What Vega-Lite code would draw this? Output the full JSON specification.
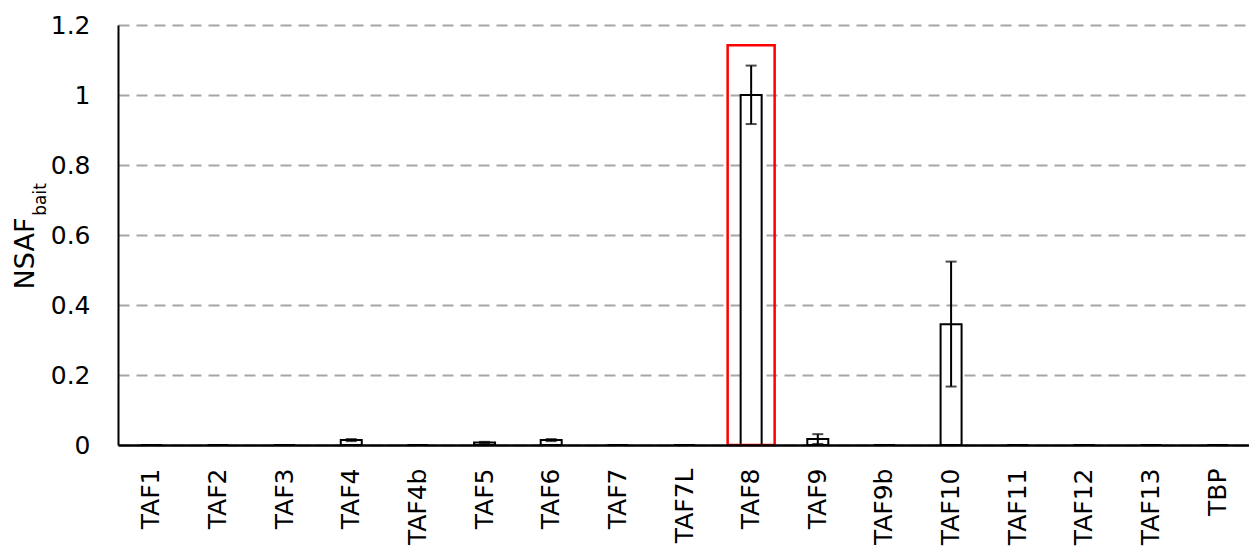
{
  "$schema": "https://vega.github.io/schema/vega-lite/v6.json",
  "width": 1133,
  "height": 420,
  "autosize": {"type": "none"},
  "padding": {"left": 118, "top": 25, "right": 0, "bottom": 105},
  "background": "white",
  "config": {
    "view": {"stroke": null},
    "font": "DejaVu Sans"
  },
  "data": {
    "values": [
      {"name": "TAF1", "value": 0},
      {"name": "TAF2", "value": 0},
      {"name": "TAF3", "value": 0},
      {"name": "TAF4", "value": 0.014, "lo": 0.011, "hi": 0.017},
      {"name": "TAF4b", "value": 0},
      {"name": "TAF5", "value": 0.007, "lo": 0.005, "hi": 0.009},
      {"name": "TAF6", "value": 0.014, "lo": 0.011, "hi": 0.017},
      {"name": "TAF7", "value": 0},
      {"name": "TAF7L", "value": 0},
      {"name": "TAF8", "value": 1.0, "lo": 0.917, "hi": 1.084},
      {"name": "TAF9", "value": 0.017, "lo": 0.003, "hi": 0.031},
      {"name": "TAF9b", "value": 0},
      {"name": "TAF10", "value": 0.345, "lo": 0.167, "hi": 0.524},
      {"name": "TAF11", "value": 0},
      {"name": "TAF12", "value": 0},
      {"name": "TAF13", "value": 0},
      {"name": "TBP", "value": 0}
    ]
  },
  "encoding": {
    "x": {
      "field": "name",
      "type": "nominal",
      "sort": null,
      "scale": {
        "domain": ["TAF1","TAF2","TAF3","TAF4","TAF4b","TAF5","TAF6","TAF7","TAF7L","TAF8","TAF9","TAF9b","TAF10","TAF11","TAF12","TAF13","TBP"],
        "paddingInner": 0,
        "paddingOuter": 0
      },
      "axis": {
        "title": null,
        "labelAngle": -90,
        "labelAlign": "right",
        "labelBaseline": "middle",
        "labelFontSize": 25,
        "labelColor": "black",
        "labelFont": "DejaVu Sans",
        "labelPadding": 23,
        "ticks": false,
        "domainColor": "black",
        "domainWidth": 2.5,
        "grid": false,
        "zindex": 1
      }
    }
  },
  "resolve": {"axis": {"y": "independent"}},
  "layer": [
    {
      "mark": {"type": "bar", "width": 21, "fill": "white", "stroke": "black", "strokeWidth": 2},
      "encoding": {
        "y": {
          "field": "value",
          "type": "quantitative",
          "scale": {"domain": [0, 1.2], "nice": false},
          "axis": {
            "values": [0, 0.2, 0.4, 0.6, 0.8, 1, 1.2],
            "format": ".1~f",
            "labelFontSize": 25,
            "labelColor": "black",
            "labelPadding": 28,
            "ticks": false,
            "domainColor": "black",
            "domainWidth": 2,
            "grid": true,
            "gridColor": "#a6a6a6",
            "gridWidth": 2,
            "gridDash": [11, 7],
            "title": "NSAF",
            "titleFontSize": 27,
            "titleFontWeight": "normal",
            "titleColor": "black",
            "titleAngle": -90,
            "titleAlign": "center",
            "titleBaseline": "alphabetic",
            "titleX": -85,
            "titleY": 228
          }
        }
      }
    },
    {
      "data": {"values": [{"name": "TAF8", "top": 1.142}]},
      "mark": {"type": "bar", "width": 47, "fill": "white", "fillOpacity": 0, "stroke": "#ff0000", "strokeWidth": 2.5},
      "encoding": {
        "y": {
          "field": "top",
          "type": "quantitative",
          "scale": {"domain": [0, 1.2], "nice": false},
          "axis": {
            "orient": "left",
            "labels": false,
            "ticks": false,
            "domain": false,
            "grid": false,
            "title": "bait",
            "titleFontSize": 17,
            "titleFontWeight": "normal",
            "titleColor": "black",
            "titleAngle": -90,
            "titleAlign": "center",
            "titleBaseline": "alphabetic",
            "titleX": -73,
            "titleY": 174
          }
        },
        "y2": {"datum": 0}
      }
    },
    {
      "mark": {"type": "rule", "stroke": "black", "strokeWidth": 2},
      "encoding": {
        "y": {"field": "lo", "type": "quantitative", "scale": {"domain": [0, 1.2], "nice": false}, "axis": null},
        "y2": {"field": "hi"}
      }
    },
    {
      "mark": {"type": "tick", "color": "black", "size": 11, "thickness": 2, "orient": "horizontal"},
      "encoding": {
        "y": {"field": "hi", "type": "quantitative", "scale": {"domain": [0, 1.2], "nice": false}, "axis": null}
      }
    },
    {
      "mark": {"type": "tick", "color": "black", "size": 11, "thickness": 2, "orient": "horizontal"},
      "encoding": {
        "y": {"field": "lo", "type": "quantitative", "scale": {"domain": [0, 1.2], "nice": false}, "axis": null}
      }
    }
  ]
}
